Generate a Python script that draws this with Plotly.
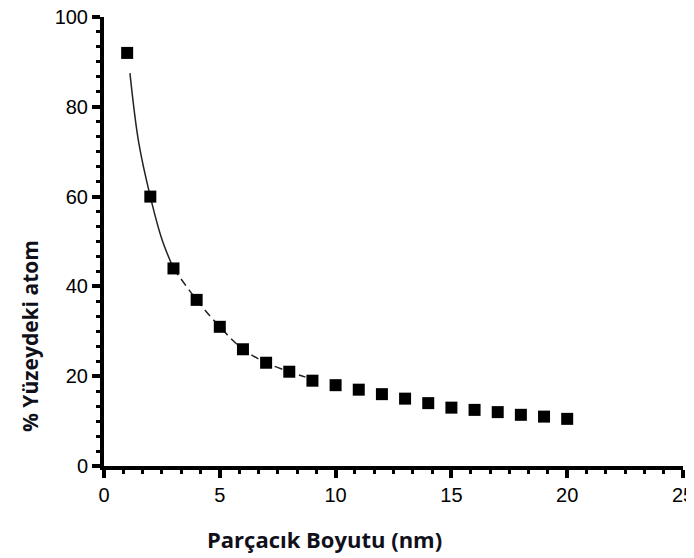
import plotly.graph_objects as go

# Data
size_nm = [1, 2, 3, 4, 5, 6, 7, 8, 9, 10, 11, 12, 13, 14, 15, 16, 17, 18, 19, 20]
surface_pct = [92, 60, 44, 37, 31, 26, 23, 21, 19, 18, 17, 16, 15, 14, 13, 12.5, 12, 11.4, 11, 10.5]

# Fitted curve, solid part and dashed part
fit_solid_x = [1.12, 1.5, 2, 2.5, 3]
fit_solid_y = [87.5, 72, 60, 50.5, 44]
fit_dash_x = [3, 4, 5, 6, 7, 8, 8.7]
fit_dash_y = [44, 37, 31, 26, 23, 21, 19.8]

x_range = [0, 25]
y_range = [0, 100]
x_major, y_major = 5, 20
minor_per_major = 6
x_minor_vals = [x_major * i / minor_per_major for i in range(int(x_range[1] / x_major) * minor_per_major + 1)]
y_minor_vals = [y_major * i / minor_per_major for i in range(int(y_range[1] / y_major) * minor_per_major + 1)]

# page body has an 8px default margin; compensate so the plot lands where the reference has it
OFF = 8
W, H = 694 - OFF, 558 - OFF
L, R, T, B = 104 - OFF, 11, 17 - OFF, 558 - 466
PW, PH = W - L - R, H - T - B

fig = go.Figure()
fig.add_trace(go.Scatter(x=fit_solid_x, y=fit_solid_y, mode="lines",
                         line=dict(color="#222222", width=1.5, shape="spline"),
                         showlegend=False, hoverinfo="skip"))
fig.add_trace(go.Scatter(x=fit_dash_x, y=fit_dash_y, mode="lines",
                         line=dict(color="#222222", width=1.5, shape="spline", dash="8px,5px"),
                         showlegend=False, hoverinfo="skip"))
fig.add_trace(go.Scatter(x=size_nm, y=surface_pct, mode="markers",
                         marker=dict(symbol="square", size=12, color="black",
                                     line=dict(width=0)),
                         showlegend=False))

tickfont = dict(family="Liberation Sans", size=20, color="black")

axis_common = dict(showgrid=False, zeroline=False, showline=True, linecolor="black",
                   linewidth=4, ticks="outside", ticklen=8, tickwidth=3.5,
                   tickcolor="black", tickfont=tickfont, automargin=False,
                   ticklabeloverflow="allow")

fig.update_layout(
    width=W, height=H,
    margin=dict(l=L, r=R, t=T, b=B, autoexpand=False),
    paper_bgcolor="white", plot_bgcolor="white",
    xaxis=dict(range=x_range, dtick=x_major,
               minor=dict(tickmode="array", tickvals=x_minor_vals, ticks="outside",
                          ticklen=4, tickwidth=3, tickcolor="black", showgrid=False),
               **axis_common),
    yaxis=dict(range=y_range, dtick=y_major,
               minor=dict(tickmode="array", tickvals=y_minor_vals, ticks="outside",
                          ticklen=4, tickwidth=3, tickcolor="black", showgrid=False),
               **axis_common),
    annotations=[
        dict(text="<b>Parçacık Boyutu (nm)</b>", xref="paper", yref="paper",
             x=(324 - 104) / PW, y=-(539 - 466) / PH, xanchor="center", yanchor="middle",
             showarrow=False, font=dict(family="Open Sans", size=22, color="#10101a")),
        dict(text="<b>% Yüzeydeki atom</b>", xref="paper", yref="paper",
             x=-(104 - 30) / PW, y=(466 - 336) / PH, xanchor="center", yanchor="middle",
             textangle=-90, showarrow=False,
             font=dict(family="Open Sans", size=21, color="#10101a")),
    ],
)

fig.write_html("out.html")
